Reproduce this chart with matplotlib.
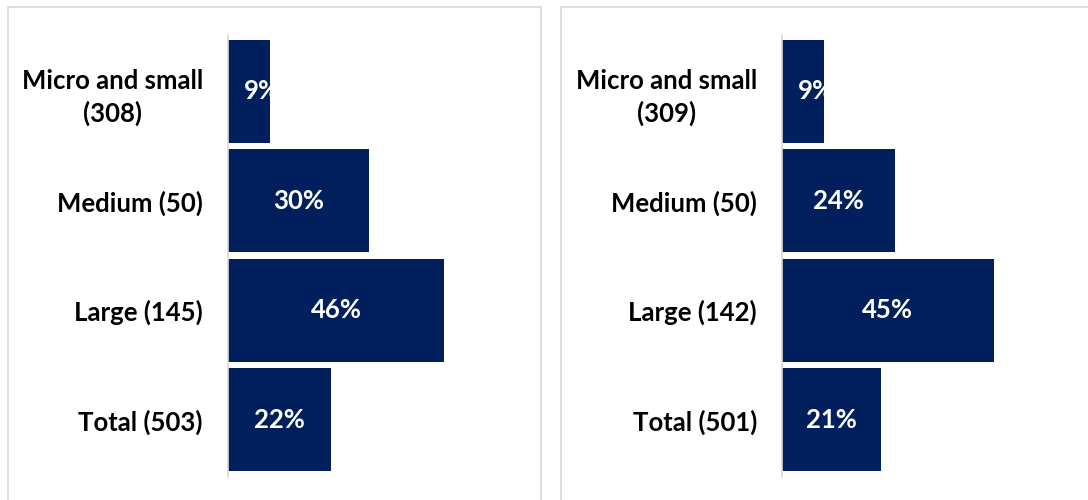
import matplotlib
matplotlib.use("Agg")
import matplotlib.pyplot as plt
from matplotlib.patches import Rectangle

plt.rcParams['font.family'] = ['Lato', 'DejaVu Sans']

categories_left = ["Micro and small\n(308)", "Medium (50)", "Large (145)", "Total (503)"]
values_left = [9, 30, 46, 22]

categories_right = ["Micro and small\n(309)", "Medium (50)", "Large (142)", "Total (501)"]
values_right = [9, 24, 45, 21]

BAR_COLOR = "#001f5c"
FRAME_COLOR = "#d9d9d9"
W, H = 1088, 500

fig = plt.figure(figsize=(W / 100, H / 100), dpi=100)
fig.patch.set_facecolor("white")

# panel frames
for x0, x1 in [(8, 541), (561, 1100)]:
    fig.add_artist(Rectangle((x0 / W, -0.05), (x1 - x0) / W, (H - 7) / H + 0.05,
                             transform=fig.transFigure, fill=False,
                             edgecolor=FRAME_COLOR, linewidth=1.2))


def panel(left_px, cats, vals):
    ax_w = 277
    ax = fig.add_axes([left_px / W, 23.4 / H, ax_w / W, 442 / H])
    xmax = ax_w / 4.7
    ypos = list(range(len(cats)))
    ax.barh(ypos, vals, height=0.94, color=BAR_COLOR)
    ax.set_xlim(0, xmax)
    ax.set_ylim(3.52, -0.52)
    ax.set_yticks(ypos)
    ax.set_yticklabels(cats, fontsize=18.5, fontweight="bold",
                       multialignment="center", linespacing=1.35)
    ax.tick_params(axis="y", length=0, pad=18)
    ax.set_xticks([])
    for s in ["top", "right", "bottom"]:
        ax.spines[s].set_visible(False)
    ax.spines["left"].set_color(FRAME_COLOR)
    ax.spines["left"].set_linewidth(1.2)
    for y, v in zip(ypos, vals):
        ax.text(max(v / 2, 7.2), y, f"{v}%", color="white", fontsize=18.5,
                fontweight="bold", ha="center", va="center")
    return ax


panel(228, categories_left, values_left)
panel(782, categories_right, values_right)

fig.savefig("out.png", dpi=100)
